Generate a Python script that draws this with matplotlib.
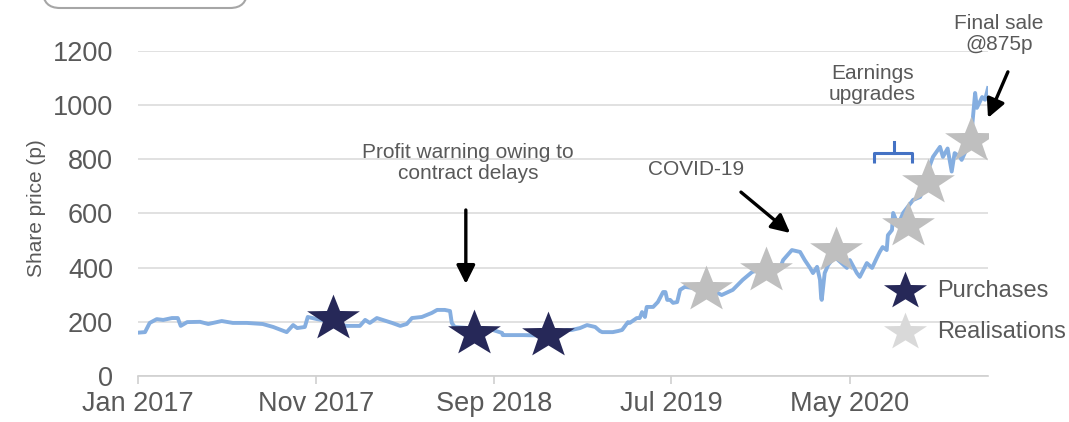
import numpy as np
import pandas as pd
import matplotlib
matplotlib.use("Agg")
import matplotlib.pyplot as plt
import matplotlib.dates as mdates
from matplotlib.path import Path
from matplotlib.lines import Line2D
from matplotlib.patches import FancyBboxPatch

plt.rcParams['font.family'] = ['Liberation Sans', 'DejaVu Sans']

# ---------------- data ----------------
start_date = "2017-01-01"
# share price series: day offsets from start_date and price (p)
price_days = [0, 12, 20, 32, 43, 58, 68, 73, 84, 106, 120, 143, 162, 186, 213, 231, 254, 265,
              272, 285, 290, 306, 319, 345, 357, 379, 388, 396, 408, 418, 434, 448, 459, 468,
              485, 502, 511, 524, 533, 536, 541, 559, 584, 606, 622, 623, 658, 678, 700, 721,
              733, 741, 755, 767, 781, 789, 793, 811, 820, 827, 837, 840, 852, 857, 861, 866,
              869, 880, 888, 897, 901, 904, 909, 914, 921, 926, 934, 948, 960, 977, 997, 1016,
              1033, 1049, 1062, 1079, 1097, 1102, 1117, 1131, 1139, 1148, 1153, 1160, 1165,
              1167, 1168, 1173, 1179, 1190, 1211, 1216, 1228, 1233, 1245, 1254, 1262, 1267,
              1272, 1279, 1281, 1288, 1290, 1296, 1302, 1307, 1324, 1336, 1344, 1348, 1358,
              1370, 1375, 1383, 1390, 1395, 1404, 1407, 1418, 1424, 1430, 1433, 1442, 1447, 1452]
price_vals = [160, 162, 196, 210, 207, 214, 214, 185, 199, 200, 192, 203, 196, 196, 192, 181, 162, 188,
              177, 181, 218, 210, 205, 188, 185, 185, 207, 196, 214, 207, 196, 185, 192, 214,
              218, 233, 244, 244, 240, 196, 181, 178, 172, 170, 159, 151, 151, 150, 152, 160,
              170, 170, 177, 188, 181, 166, 162, 162, 166, 170, 199, 196, 214, 214, 236, 218,
              255, 255, 273, 310, 310, 281, 281, 270, 273, 318, 329, 325, 327, 322, 299, 318,
              355, 384, 392, 395, 399, 428, 465, 458, 428, 399, 380, 403, 355,
              288, 281, 380, 410, 440, 399, 428, 380, 366, 417, 399, 436, 458,
              476, 465, 520, 539, 602, 569, 576, 602, 650, 661, 698, 750, 809,
              846, 809, 840, 755, 823, 809, 798, 850, 900, 1045, 990, 1030, 1020, 1063]

purchase_days = [333, 574, 700]
purchase_vals = [222, 168, 160]
realisation_days = [970, 1073, 1192, 1315, 1349, 1423]
realisation_vals = [327, 399, 472, 565, 724, 880]

tick_dates = ["2017-01-01", "2017-11-01", "2018-09-01", "2019-07-01", "2020-05-01"]
y_ticks = [0, 200, 400, 600, 800, 1000, 1200]
x_end_day = 1452

# annotation anchors (day offset, price)
profit_text = (564, 786)
profit_arrow = ((560, 613), (560, 340))
covid_text = (953, 761)
covid_arrow = ((1030, 679), (1114, 528))
earn_text = (1254, 1078)
bracket_days = [1257, 1291, 1322]
bracket_vals = [787, 823, 864]
final_text = (1471, 1263)
final_arrow = ((1486, 1123), (1452, 953))

# ---------------- helpers ----------------
t0 = pd.Timestamp(start_date)
def d(n):
    return mdates.date2num(t0 + pd.Timedelta(days=float(n)))

def star_path(inner=0.40, squash=0.873):
    ang = np.pi / 2 + np.arange(10) * np.pi / 5
    r = np.where(np.arange(10) % 2 == 0, 1.0, inner)
    xs = r * np.cos(ang)
    ys = r * np.sin(ang) * squash
    ys = ys - (ys.max() + ys.min()) / 2
    verts = np.column_stack([xs, ys])
    verts = np.vstack([verts, verts[0]])
    codes = [Path.MOVETO] + [Path.LINETO] * 9 + [Path.CLOSEPOLY]
    return Path(verts, codes)

STAR = star_path()
TXT = '#595959'
LINE = '#85AEE0'
NAVY = '#262858'
GREY = '#BFBFBF'

# ---------------- figure ----------------
fig = plt.figure(figsize=(10.69, 4.22), dpi=100)
ax = fig.add_axes([138 / 1069, 1 - 376 / 422, 850 / 1069, 325 / 422])

px = [d(n) for n in price_days]
ax.plot(px, price_vals, color=LINE, lw=2.8, solid_joinstyle='round', zorder=3)

ax.plot([d(n) for n in purchase_days], purchase_vals, ls='none', marker=STAR,
        ms=38, color=NAVY, mec='none', zorder=4)
ax.plot([d(n) for n in realisation_days], realisation_vals, ls='none', marker=STAR,
        ms=38, color=GREY, mec='none', zorder=4)

ax.set_xlim(d(0), d(x_end_day))
ax.set_ylim(0, 1200)
ax.set_yticks(y_ticks)
ax.set_xticks([mdates.date2num(pd.Timestamp(t)) for t in tick_dates])
ax.xaxis.set_major_formatter(mdates.DateFormatter('%b %Y'))

ax.grid(axis='y', color='#D9D9D9', lw=1.1, zorder=0)
ax.set_axisbelow(True)
for s in ['top', 'right', 'left']:
    ax.spines[s].set_visible(False)
ax.spines['bottom'].set_color('#D0D0D0')
ax.spines['bottom'].set_linewidth(1.2)
ax.tick_params(axis='y', length=0, pad=18, labelsize=19.5, labelcolor=TXT)
ax.tick_params(axis='x', length=6, width=1.2, color='#D0D0D0', pad=5,
               labelsize=19.5, labelcolor=TXT, direction='out')

ax.set_ylabel('Share price (p)', fontsize=15, color=TXT)
ax.yaxis.set_label_coords(-0.108, 0.517)

# annotations
arrow_kw = dict(arrowstyle='-|>', lw=2.4, color='black', mutation_scale=28,
                shrinkA=0, shrinkB=0)
ax.text(d(profit_text[0]), profit_text[1], 'Profit warning owing to\ncontract delays',
        ha='center', va='center', fontsize=15, color=TXT, linespacing=1.15)
ax.annotate('', xy=(d(profit_arrow[1][0]), profit_arrow[1][1]),
            xytext=(d(profit_arrow[0][0]), profit_arrow[0][1]), arrowprops=arrow_kw)

ax.text(d(covid_text[0]), covid_text[1], 'COVID-19', ha='center', va='center',
        fontsize=15, color=TXT)
ax.annotate('', xy=(d(covid_arrow[1][0]), covid_arrow[1][1]),
            xytext=(d(covid_arrow[0][0]), covid_arrow[0][1]), arrowprops=arrow_kw)

ax.text(d(earn_text[0]), earn_text[1], 'Earnings\nupgrades', ha='center', va='center',
        fontsize=15, color=TXT, linespacing=1.15)
bx = [d(n) for n in bracket_days]
ax.plot([bx[0], bx[0], bx[2], bx[2]], [bracket_vals[0], bracket_vals[1], bracket_vals[1], bracket_vals[0]],
        color='#4472C4', lw=2.2, solid_joinstyle='round', solid_capstyle='butt', zorder=5)
ax.plot([bx[1], bx[1]], [bracket_vals[1], bracket_vals[2]], color='#4472C4', lw=2.2, zorder=5)

ax.text(d(final_text[0]), final_text[1], 'Final sale\n@875p', ha='center', va='center',
        fontsize=15, color=TXT, linespacing=1.15, clip_on=False)
ax.annotate('', xy=(d(final_arrow[1][0]), final_arrow[1][1]),
            xytext=(d(final_arrow[0][0]), final_arrow[0][1]), arrowprops=arrow_kw,
            annotation_clip=False)

# legend
handles = [Line2D([], [], ls='none', marker=STAR, ms=31, color=NAVY, mec='none'),
           Line2D([], [], ls='none', marker=STAR, ms=31, color='#D9D9D9', mec='none')]
leg = ax.legend(handles, ['Purchases', 'Realisations'], loc='upper left',
                bbox_to_anchor=(0.872, 0.325), frameon=False, fontsize=17,
                handlelength=1.4, handletextpad=0.65, labelspacing=0.82,
                borderaxespad=0)
for t in leg.get_texts():
    t.set_color(TXT)

# cropped rounded box at top-left
box = FancyBboxPatch((0.43, 4.14), 2.04, 0.6,
                     boxstyle='round,pad=0,rounding_size=0.17',
                     transform=fig.dpi_scale_trans, fc='white', ec='#A6A6A6', lw=1.5,
                     clip_on=False)
fig.add_artist(box)

fig.savefig('out.png', dpi=100)
